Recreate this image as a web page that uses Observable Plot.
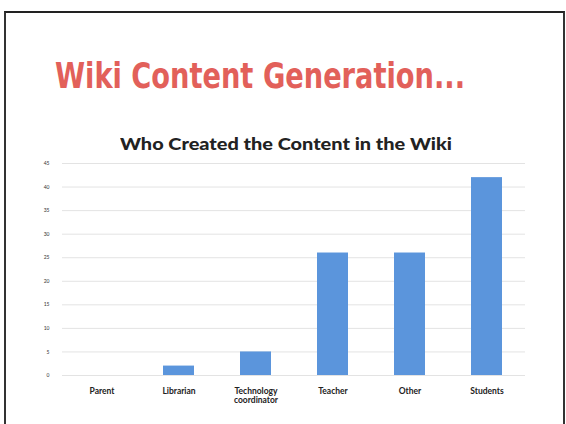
<!DOCTYPE html>
<html>
<head>
<meta charset="utf-8">
<script src="https://cdn.jsdelivr.net/npm/d3@7"></script>
<script src="https://cdn.jsdelivr.net/npm/@observablehq/plot@0.6"></script>
<style>
  html, body { margin: 0; padding: 0; background: #fff; }
  #page { position: relative; width: 566px; height: 424px; overflow: hidden; background: #fff; }
  #frame { position: absolute; left: 4px; top: 11px; width: 557px; height: 420px;
           border-top: 2px solid #222; border-left: 2px solid #333; border-right: 2px solid #333; }
  #title { position: absolute; left: 55px; top: 58px; white-space: nowrap;
           font-family: "DejaVu Sans Condensed", "DejaVu Sans", sans-serif; font-stretch: condensed;
           font-weight: bold; font-size: 36px;
           color: #e2605a; transform-origin: 0 0; line-height: 1; }
  #subtitle { position: absolute; left: 120px; top: 135px; white-space: nowrap;
           font-family: Lato, sans-serif; font-weight: 900; font-size: 17px;
           color: #222; transform-origin: 0 0; line-height: 1; }
  #chart { position: absolute; left: 0; top: 155px; }
</style>
</head>
<body>
<div id="page">
  <div id="frame"></div>
  <div id="title">Wiki Content Generation...</div>
  <div id="subtitle">Who Created the Content in the Wiki</div>
  <div id="chart"></div>
</div>
<script>
const categories = ["Parent", "Librarian", "Technology coordinator", "Teacher", "Other", "Students"];
const tickLabels = ["Parent", "Librarian", "Technology\ncoordinator", "Teacher", "Other", "Students"];
const values = [0, 2, 5, 26, 26, 42];
const yTicks = [0, 5, 10, 15, 20, 25, 30, 35, 40, 45];

const data = categories.map((c, i) => ({category: c, value: values[i]}));
const labelOf = new Map(categories.map((c, i) => [c, tickLabels[i]]));

const chart = Plot.plot({
  width: 566,
  height: 260,
  marginTop: 8,
  marginBottom: 40,
  marginLeft: 62,
  marginRight: 41,
  style: {background: "transparent", fontFamily: "Lato, sans-serif"},
  x: {domain: categories, paddingInner: 0.6, paddingOuter: 0.3, label: null},
  y: {domain: [0, 45], label: null},
  marks: [
    Plot.gridY(yTicks, {stroke: "#e3e3e3", strokeOpacity: 1, strokeWidth: 1}),
    Plot.barY(data, {x: "category", y: "value", fill: "#5b95dc"}),
    Plot.axisY(yTicks, {tickSize: 0, tickPadding: 13, fontSize: 5, fill: "#333", label: null}),
    Plot.axisX({tickSize: 0, tickPadding: 12, fontSize: 8.5, fontWeight: "bold", fill: "#222",
                tickFormat: d => labelOf.get(d), label: null, lineHeight: 1.1})
  ]
});
document.getElementById("chart").appendChild(chart);

function fit(id, w) {
  const el = document.getElementById(id);
  const r = el.getBoundingClientRect();
  el.style.transform = `scaleX(${w / r.width})`;
}
fit("title", 410);
fit("subtitle", 332);
</script>
</body>
</html>
